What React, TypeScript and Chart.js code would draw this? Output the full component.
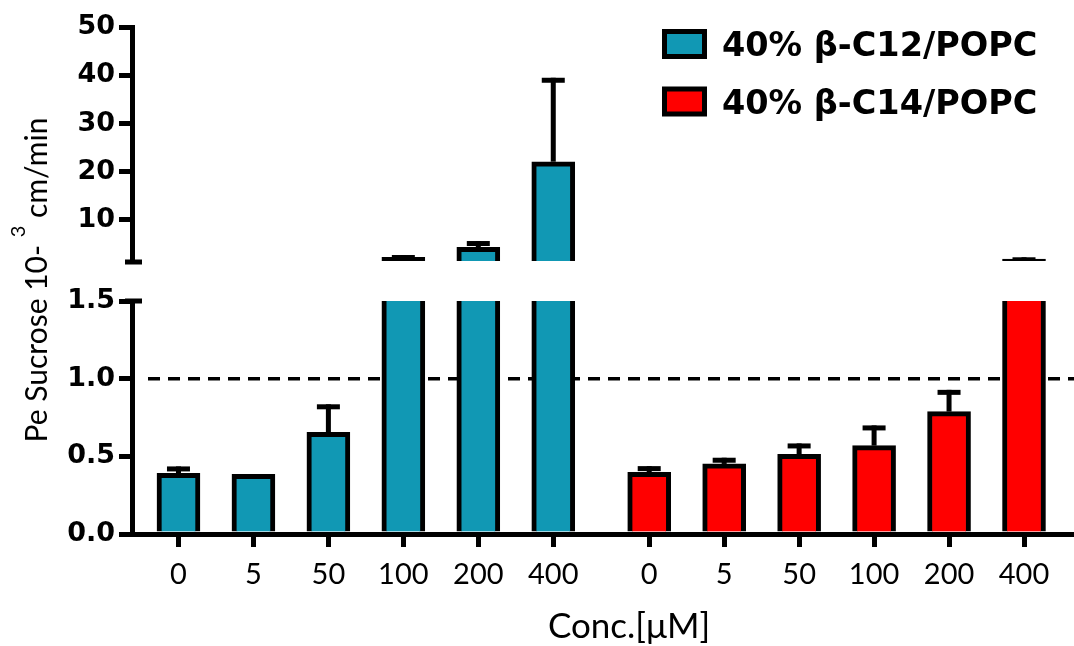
import React, { useEffect, useRef } from "react";
import { Chart, registerables } from "chart.js";

Chart.register(...registerables);

// ---- data ----
const concentrations = ["0", "5", "50", "100", "200", "400"];
const seriesNames = ["40% β-C12/POPC", "40% β-C14/POPC"];
const c12Means = [0.39, 0.384, 0.655, 2.27, 4.34, 22.08];
const c12Errors = [0.045, 0, 0.18, 0.47, 1.3, 17.4];
const c14Means = [0.397, 0.451, 0.513, 0.569, 0.788, 1.9];
const c14Errors = [0.04, 0.04, 0.07, 0.13, 0.14, 0.37];
const lowerTicks = [0, 0.5, 1.0, 1.5];
const upperTicks = [10, 20, 30, 40, 50];
const axisBreak = 1.5;
const upperMax = 50;
const referenceLevel = 1.0;
const xTitle = "Conc.[μM]";
const yTitleParts = ["Pe Sucrose 10- ", "3", " cm/min"];

// ---- styles / layout ----
const seriesColors = ["#1198b4", "#ff0000"];
const groupExtraGap = 0.28;
const BLACK = "#000000";
const tickFontY = { family: "'DejaVu Sans'", size: 27, weight: "bold" as const };
const tickFontX = { family: "Lato", size: 29, weight: "normal" as const };

const seriesMeans = [c12Means, c14Means];
const seriesErrors = [c12Errors, c14Errors];
const positions: number[][] = seriesMeans.map((_, g) =>
  concentrations.map((_, i) => g * (concentrations.length + groupExtraGap) + i)
);
const allPositions = positions.flat();
const allLabels = seriesMeans.map(() => concentrations).flat();

function makeDatasets() {
  const ds: any[] = [];
  seriesMeans.forEach((means, g) => {
    const common = {
      label: seriesNames[g],
      backgroundColor: seriesColors[g],
      borderColor: BLACK,
      borderWidth: 5,
      barThickness: 43,
      grouped: false,
      borderSkipped: "start",
      errors: seriesErrors[g],
    };
    ds.push({
      ...common,
      yAxisID: "yBot",
      data: means.map((v, i) => ({ x: positions[g][i], y: v })),
    });
    ds.push({
      ...common,
      yAxisID: "yTop",
      data: means.map((v, i) => ({ x: positions[g][i], y: v > axisBreak ? v : null })),
    });
  });
  return ds;
}

const breakClipPlugin = {
  id: "breakClipErrors",
  beforeDatasetDraw(chart: any, args: any) {
    const meta = args.meta;
    const ys = chart.scales[meta.yAxisID];
    const ca = chart.chartArea;
    const ctx = chart.ctx;
    ctx.save();
    ctx.beginPath();
    ctx.rect(ca.left, ys.top, ca.right - ca.left, ys.bottom - ys.top);
    ctx.clip();
  },
  afterDatasetDraw(chart: any, args: any) {
    const ctx = chart.ctx;
    const meta = args.meta;
    const ds = chart.data.datasets[args.index];
    const ys = chart.scales[meta.yAxisID];
    const errs: number[] = ds.errors || [];
    meta.data.forEach((el: any, i: number) => {
      const raw = ds.data[i];
      if (!raw || raw.y == null) return;
      const e = errs[i];
      if (!e) return;
      const yTop = ys.getPixelForValue(raw.y + e);
      const yBar = ys.getPixelForValue(raw.y);
      ctx.fillStyle = BLACK;
      ctx.fillRect(el.x - 2.5, yTop, 5, yBar - yTop);
      ctx.fillRect(el.x - 11.5, yTop, 23, 5);
    });
    ctx.restore();
  },
};

const decorPlugin = {
  id: "decor",
  beforeDatasetsDraw(chart: any) {
    const ctx = chart.ctx;
    const ca = chart.chartArea;
    const y = chart.scales.yBot.getPixelForValue(referenceLevel);
    ctx.save();
    ctx.setLineDash([12, 8]);
    ctx.lineWidth = 3.5;
    ctx.strokeStyle = BLACK;
    ctx.beginPath();
    ctx.moveTo(ca.left + 16, y);
    ctx.lineTo(ca.right, y);
    ctx.stroke();
    ctx.restore();
  },
  afterDraw(chart: any) {
    const ctx = chart.ctx;
    const ca = chart.chartArea;
    const yt = chart.scales.yTop;
    const yb = chart.scales.yBot;
    ctx.save();
    ctx.fillStyle = BLACK;
    // break caps
    ctx.fillRect(ca.left - 7, yt.bottom - 1.5, 17, 5);
    ctx.fillRect(ca.left - 7, yb.top - 2.5, 17, 5);

    // legend
    seriesNames.forEach((name, i) => {
      const bx = ca.right - 412;
      const by = ca.top + 2 + i * 57.5;
      ctx.fillStyle = BLACK;
      ctx.fillRect(bx, by, 45, 30);
      ctx.fillStyle = seriesColors[i];
      ctx.fillRect(bx + 5, by + 5, 35, 20);
      ctx.fillStyle = BLACK;
      ctx.font = "bold 33.5px 'DejaVu Sans'";
      ctx.textAlign = "left";
      ctx.textBaseline = "alphabetic";
      ctx.fillText(name, bx + 60, by + 27);
    });

    // x title
    ctx.font = "35px Lato";
    ctx.textAlign = "center";
    ctx.textBaseline = "alphabetic";
    ctx.fillStyle = BLACK;
    ctx.fillText(xTitle, 629, 638);

    // y title (rotated, with superscript)
    const mainFont = "30px Lato";
    const supFont = "20px Lato";
    ctx.translate(47, 280);
    ctx.rotate(-Math.PI / 2);
    ctx.textAlign = "left";
    const widths = yTitleParts.map((p, i) => {
      ctx.font = i === 1 ? supFont : mainFont;
      return ctx.measureText(p).width;
    });
    const total = widths.reduce((a, b) => a + b, 0);
    let x = -total / 2;
    yTitleParts.forEach((p, i) => {
      ctx.font = i === 1 ? supFont : mainFont;
      ctx.fillText(p, x, i === 1 ? -22 : 0);
      x += widths[i];
    });
    ctx.restore();
  },
};

const yCommon = (weight: number, stackWeight: number) => ({
  type: "linear" as const,
  position: "left" as const,
  stack: "yStack",
  stackWeight,
  weight,
  grid: {
    display: true,
    drawOnChartArea: false,
    drawTicks: true,
    tickLength: 13,
    lineWidth: 5,
    color: BLACK,
  },
  border: { display: true, width: 5, color: BLACK, z: 1 },
  afterFit: (s: any) => {
    s.width = 132;
  },
});

export default function App() {
  const ref = useRef<HTMLCanvasElement>(null);
  useEffect(() => {
    document.body.style.margin = "0";
    const canvas = ref.current!;
    const chart = new Chart(canvas, {
      type: "bar",
      data: { datasets: makeDatasets() },
      options: {
        responsive: false,
        animation: false,
        devicePixelRatio: 1,
        layout: { padding: { top: 27, left: 0, right: 0, bottom: 0 } },
        plugins: { legend: { display: false }, tooltip: { enabled: false } },
        scales: {
          x: {
            type: "linear",
            position: "bottom",
            offset: false,
            min: allPositions[0] - 0.62,
            max: allPositions[allPositions.length - 1] + 0.667,
            afterBuildTicks: (s: any) => {
              s.ticks = allPositions.map((v) => ({ value: v }));
            },
            ticks: {
              autoSkip: false,
              maxRotation: 0,
              font: tickFontX,
              color: BLACK,
              padding: 10,
              callback: (_v: any, i: number) => allLabels[i],
            },
            grid: {
              display: true,
              offset: false,
              drawOnChartArea: false,
              drawTicks: true,
              tickLength: 13,
              lineWidth: 5,
              color: BLACK,
            },
            border: { display: true, width: 5, color: BLACK, z: 1 },
            afterFit: (s: any) => {
              s.height = 112;
            },
          },
          yTop: {
            ...yCommon(3, 234),
            min: axisBreak,
            max: upperMax,
            afterBuildTicks: (s: any) => {
              s.ticks = upperTicks.map((v) => ({ value: v }));
            },
            ticks: {
              font: tickFontY,
              color: BLACK,
              padding: 4,
              callback: (v: any) => String(v),
            },
          },
          yGap: {
            type: "linear",
            position: "left",
            stack: "yStack",
            stackWeight: 40,
            weight: 2,
            min: 0,
            max: 1,
            ticks: { display: false },
            grid: { display: false },
            border: { display: false },
            afterFit: (s: any) => {
              s.width = 132;
            },
          },
          yBot: {
            ...yCommon(1, 233),
            min: 0,
            max: axisBreak,
            afterBuildTicks: (s: any) => {
              s.ticks = lowerTicks.map((v) => ({ value: v }));
            },
            ticks: {
              font: tickFontY,
              color: BLACK,
              padding: 4,
              callback: (v: any) => Number(v).toFixed(1),
            },
          },
        } as any,
      },
      plugins: [breakClipPlugin, decorPlugin],
    } as any);
    return () => chart.destroy();
  }, []);
  return (
    <div style={{ width: 1074, height: 646, background: "#ffffff" }}>
      <canvas ref={ref} width={1074} height={646} style={{ display: "block", width: 1074, height: 646 }} />
    </div>
  );
}
